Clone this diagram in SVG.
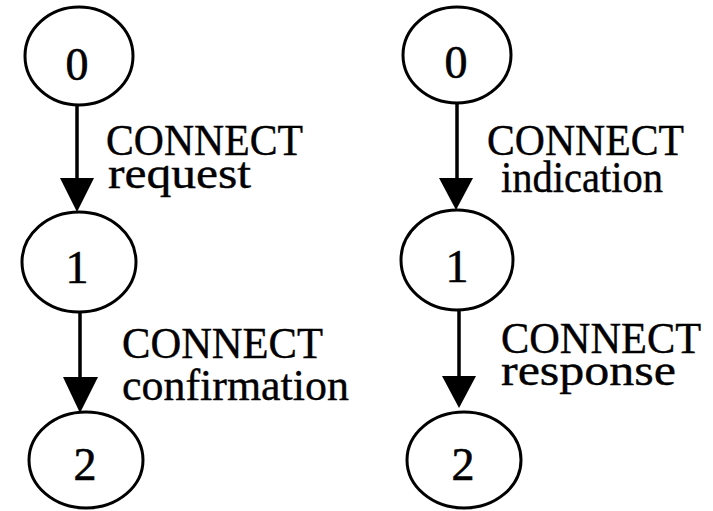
<svg xmlns="http://www.w3.org/2000/svg" width="713" height="511" viewBox="0 0 713 511">
  <style>
    .state ellipse { fill: none; stroke: #000; stroke-width: 3; }
    .state text { font-family: "Liberation Serif", "Times New Roman", serif; font-size: 46px; text-anchor: middle; fill: #000; stroke: #000; stroke-width: 0.6; }
    .edge line { stroke: #000; stroke-width: 3.5; }
    .edge polygon { fill: #000; }
    .lbl { font-family: "Liberation Serif", "Times New Roman", serif; font-size: 45px; fill: #000; stroke: #000; stroke-width: 0.4; }
  </style>
  <rect width="713" height="511" fill="#fff"/>

  <!-- left chain: request / confirmation -->
  <g id="L0" class="state"><ellipse cx="79" cy="56" rx="54" ry="49"/><text x="77" y="80">0</text></g>
  <g id="L1" class="state"><ellipse cx="79" cy="262" rx="57" ry="50"/><text x="77" y="283">1</text></g>
  <g id="L2" class="state"><ellipse cx="86" cy="460" rx="57" ry="48"/><text x="85" y="480">2</text></g>

  <!-- right chain: indication / response -->
  <g id="R0" class="state"><ellipse cx="457" cy="55" rx="54" ry="48"/><text x="456" y="78">0</text></g>
  <g id="R1" class="state"><ellipse cx="457" cy="260" rx="56" ry="50"/><text x="457" y="282">1</text></g>
  <g id="R2" class="state"><ellipse cx="464" cy="460" rx="57" ry="48"/><text x="463" y="480">2</text></g>

  <g id="connectors" class="edge">
    <line x1="77" y1="105" x2="77" y2="180"/>
    <polygon points="60,178 94,178 77,212"/>
    <line x1="80" y1="312" x2="80" y2="379"/>
    <polygon points="63,377 98,377 80,413"/>
    <line x1="457" y1="103" x2="457" y2="180"/>
    <polygon points="439,178 473,178 456,210"/>
    <line x1="459" y1="310" x2="459" y2="378"/>
    <polygon points="442,376 476,376 459,408"/>
  </g>

  <g id="labels">
    <text class="lbl" x="106" y="155" textLength="197" lengthAdjust="spacingAndGlyphs">CONNECT</text>
    <text class="lbl" x="108" y="188" font-size="48" textLength="143" lengthAdjust="spacingAndGlyphs">request</text>
    <text class="lbl" x="122" y="358" textLength="201" lengthAdjust="spacingAndGlyphs">CONNECT</text>
    <text class="lbl" x="122" y="400" font-size="44" textLength="227" lengthAdjust="spacingAndGlyphs">confirmation</text>
    <text class="lbl" x="487" y="155" textLength="197" lengthAdjust="spacingAndGlyphs">CONNECT</text>
    <text class="lbl" x="501" y="192" font-size="43" textLength="162" lengthAdjust="spacingAndGlyphs">indication</text>
    <text class="lbl" x="501" y="353" textLength="200" lengthAdjust="spacingAndGlyphs">CONNECT</text>
    <text class="lbl" x="501" y="385" font-size="48" textLength="175" lengthAdjust="spacingAndGlyphs">response</text>
  </g>
</svg>
